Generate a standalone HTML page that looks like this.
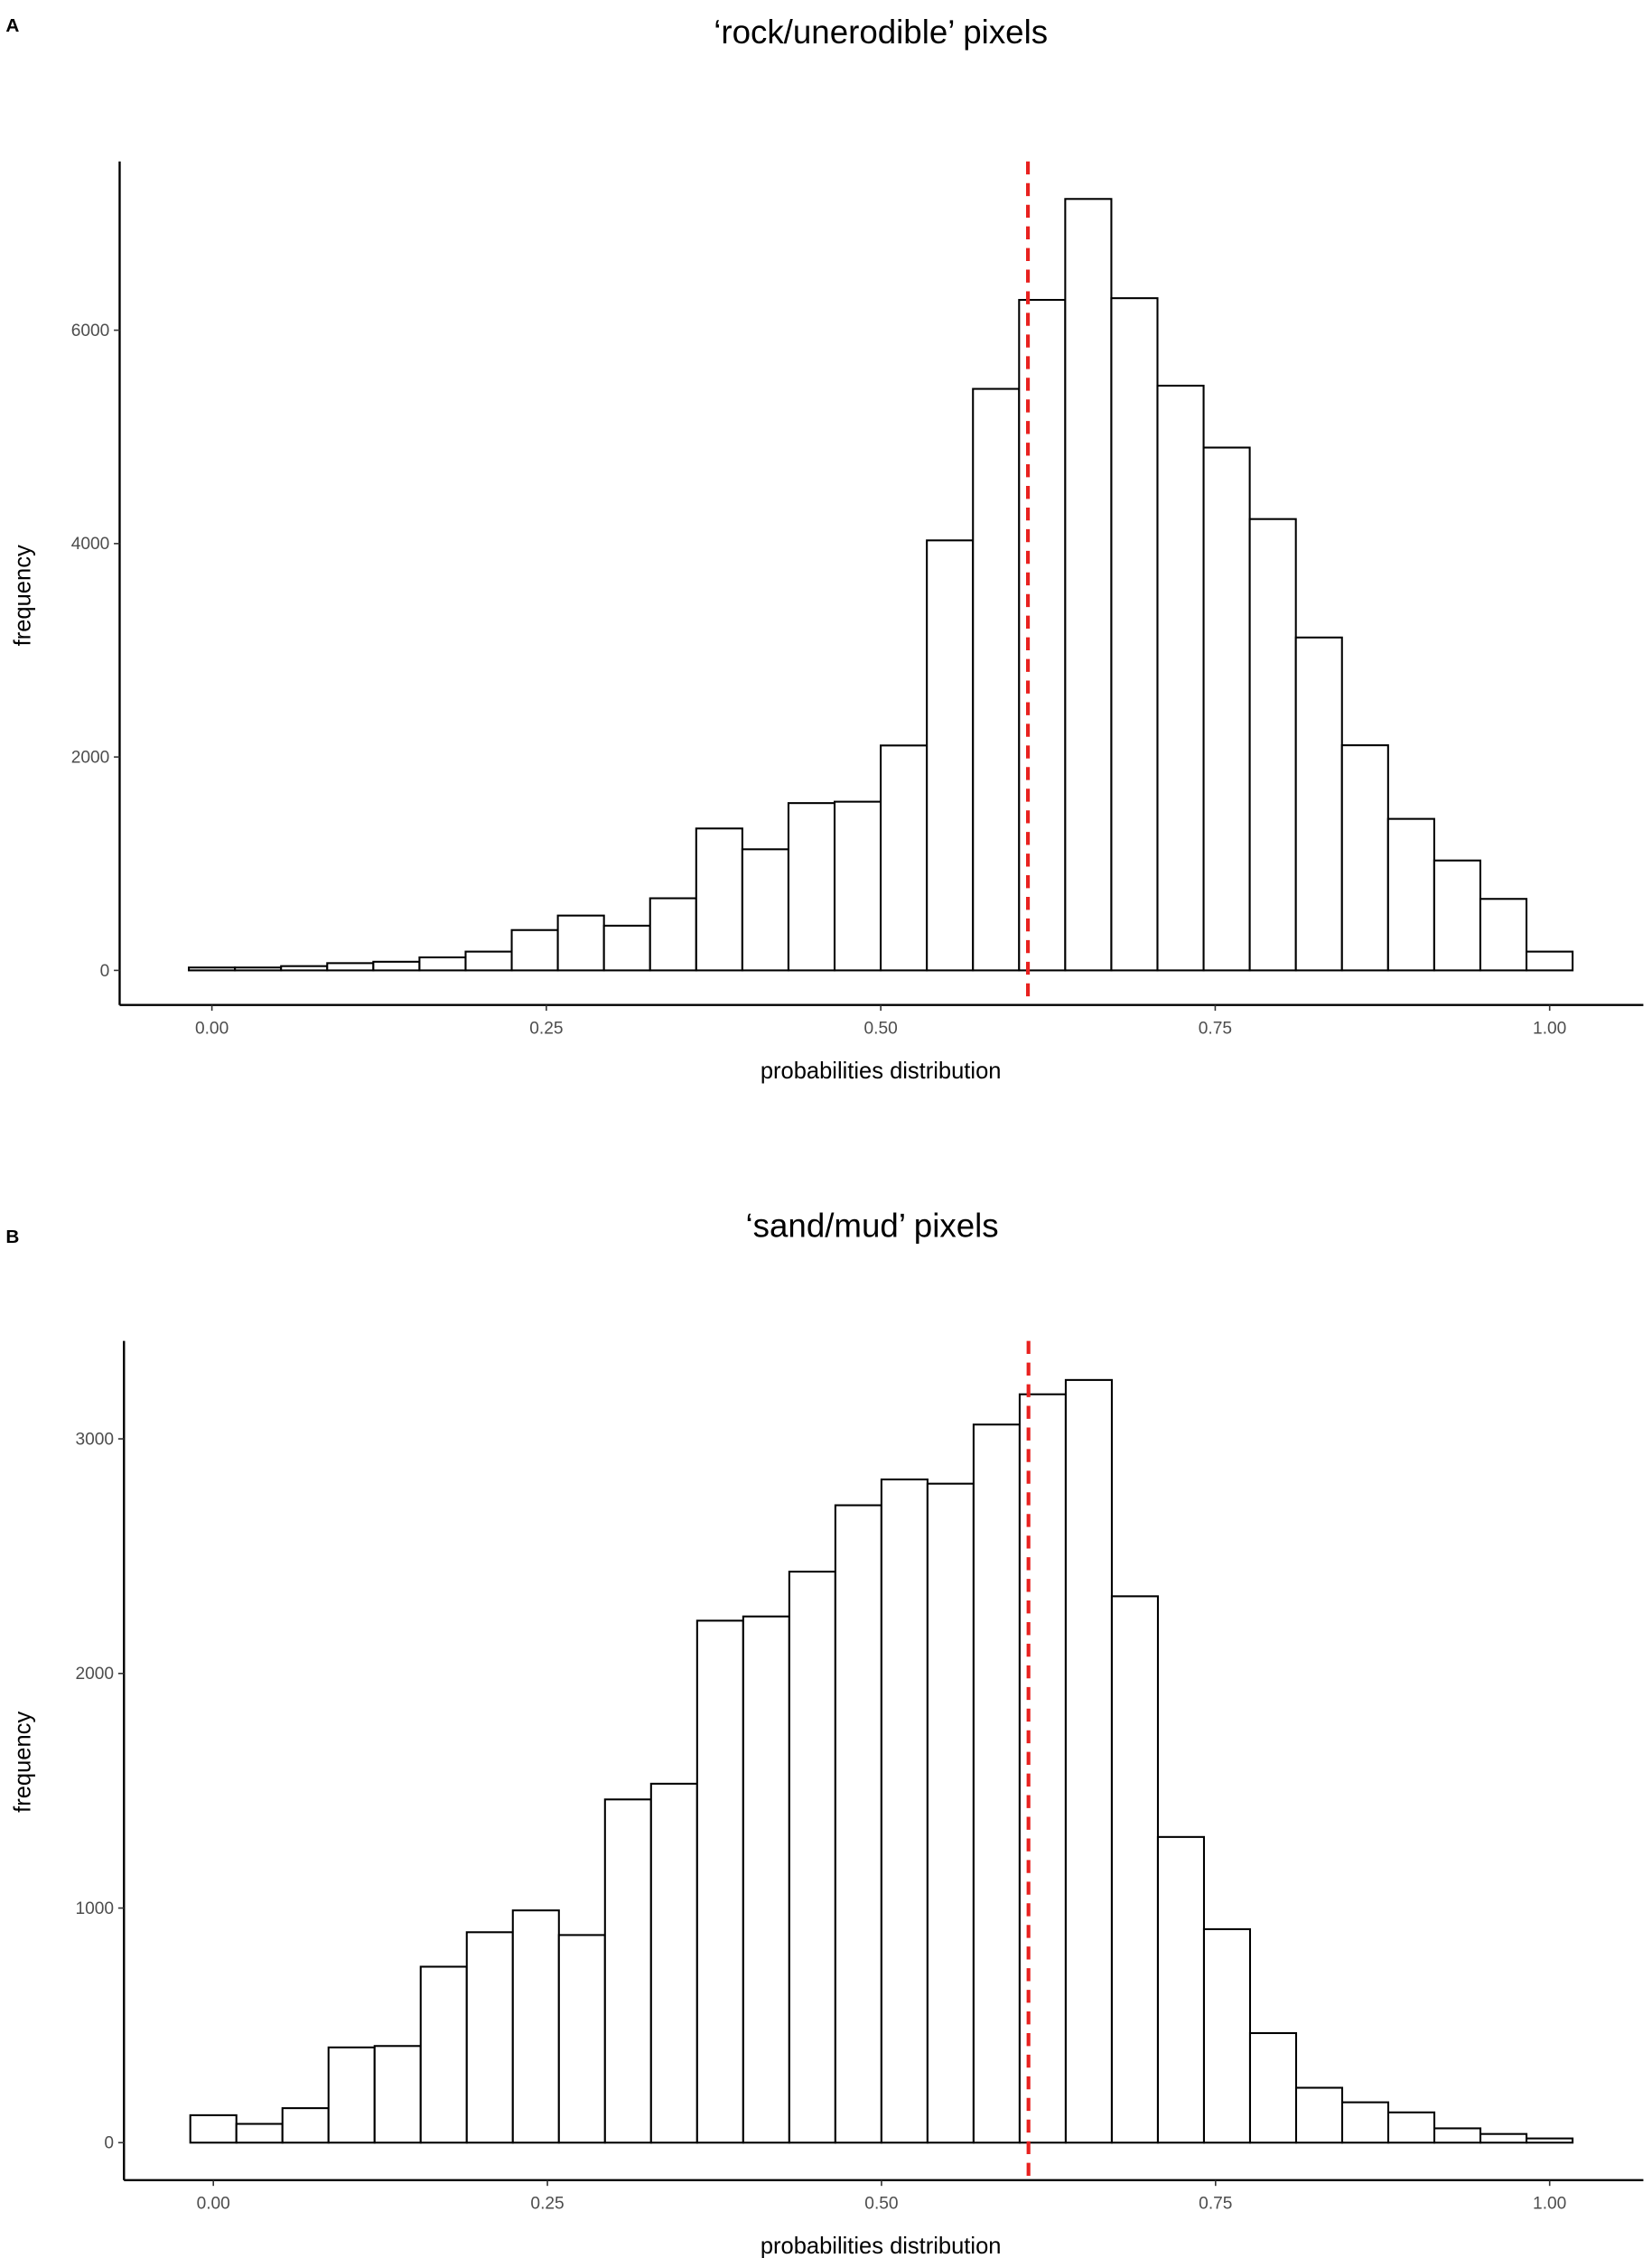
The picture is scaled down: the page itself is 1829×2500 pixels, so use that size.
<!DOCTYPE html>
<html><head><meta charset="utf-8"><style>
html,body{margin:0;padding:0;background:#fff;}
svg{display:block;}
text{font-family:"Liberation Sans",sans-serif;}
</style></head><body>
<svg id="fig" width="1829" height="2500" viewBox="0 0 1146 1566" preserveAspectRatio="none" xmlns="http://www.w3.org/2000/svg">
<text x="4" y="22" font-size="13" font-weight="bold">A</text>
<text x="611" y="30" font-size="23" text-anchor="middle">‘rock/unerodible’ pixels</text>
<text x="4" y="862" font-size="13" font-weight="bold">B</text>
<text x="605" y="858" font-size="23" text-anchor="middle">‘sand/mud’ pixels</text>
<g id="panelA"></g>
<g id="panelB"></g>
</svg>
<script>
const binStart = -0.01724;
const binWidth = 0.03448;
const valuesA = [27,27,40,68,81,122,176,378,514,419,676,1330,1135,1568,1581,2108,4030,5450,6284,7230,6300,5480,4900,4230,3120,2110,1420,1030,670,176];
const valuesB = [117,80,147,406,412,750,897,990,885,1463,1530,2225,2243,2434,2717,2827,2809,3061,3190,3251,2329,1303,910,467,234,172,129,61,37,18];
const xTicks = [0, 0.25, 0.5, 0.75, 1.0];
const xTickLabels = ["0.00","0.25","0.50","0.75","1.00"];
const yTicksA = [0, 2000, 4000, 6000];
const yTicksB = [0, 1000, 2000, 3000];
const meanLine = 0.61;

const NS = "http://www.w3.org/2000/svg";
function mk(tag, attrs, parent){
  const e = document.createElementNS(NS, tag);
  for (const k in attrs) e.setAttribute(k, attrs[k]);
  parent.appendChild(e); return e;
}
function drawPanel(g, values, yTicks, cfg){
  const xs = v => cfg.x0 + v * cfg.xUnit;
  const ys = v => cfg.y0 - v * cfg.yUnit;
  values.forEach((v, i) => {
    const a = binStart + i * binWidth;
    const r = mk('rect', {x: xs(a), y: ys(v), width: binWidth * cfg.xUnit, height: Math.max(0, ys(0) - ys(v)), fill: '#fff', stroke: '#000', 'stroke-width': 1.3}, g);
    
    
  });
  const ml = mk('line', {x1: xs(meanLine), x2: xs(meanLine), y1: cfg.axTop, y2: cfg.axY, stroke: '#e8211f', 'stroke-width': 2.6, 'stroke-dasharray': '9,6'}, g);
  
  
  const ya = mk('line', {x1: cfg.axX, x2: cfg.axX, y1: cfg.axTop, y2: cfg.axY, stroke: '#000', 'stroke-width': 1.5}, g);
  
  
  const xa = mk('line', {x1: cfg.axX, x2: 1140, y1: cfg.axY, y2: cfg.axY, stroke: '#000', 'stroke-width': 1.5}, g);
  
  
  yTicks.forEach(t => {
    mk('line', {x1: cfg.axX - 4, x2: cfg.axX, y1: ys(t), y2: ys(t), stroke: '#333', 'stroke-width': 1}, g);
    const tx = mk('text', {x: cfg.axX - 7, y: ys(t) + 4, 'font-size': 12, fill: '#4d4d4d', 'text-anchor': 'end'}, g);
    tx.textContent = String(t);
    
    
  });
  xTicks.forEach((t, i) => {
    mk('line', {x1: xs(t), x2: xs(t), y1: cfg.axY, y2: cfg.axY + 4, stroke: '#333', 'stroke-width': 1}, g);
    const tx = mk('text', {x: xs(t), y: cfg.axY + 20, 'font-size': 12, fill: '#4d4d4d', 'text-anchor': 'middle'}, g);
    tx.textContent = xTickLabels[i];
    
    
  });
  const xt = mk('text', {x: 611, y: cfg.axY + 51, 'font-size': 16, 'text-anchor': 'middle'}, g);
  xt.textContent = 'probabilities distribution';
  
  
  const yt = mk('text', {x: 0, y: 0, 'font-size': 16, 'text-anchor': 'middle', transform: 'translate(21,' + cfg.yTitleY + ') rotate(-90)'}, g);
  yt.textContent = 'frequency';
  
  
}
drawPanel(document.getElementById('panelA'), valuesA, yTicksA,
  {x0: 147, xUnit: 928, y0: 673, yUnit: 148/2000, axX: 83, axY: 697, axTop: 112, yTitleY: 413});
drawPanel(document.getElementById('panelB'), valuesB, yTicksB,
  {x0: 148, xUnit: 927, y0: 1486, yUnit: 162.7/1000, axX: 86, axY: 1512, axTop: 930, yTitleY: 1222});
</script>
</body></html>
